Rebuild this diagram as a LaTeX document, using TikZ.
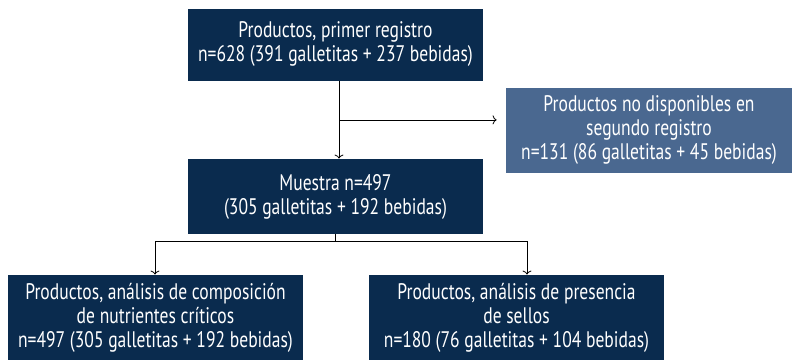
\documentclass[tikz,border=0pt]{standalone}
\usepackage{fontspec}
\setmainfont[FakeStretch=0.78]{PT Sans}
\usetikzlibrary{positioning, arrows.meta}
\definecolor{navy}{RGB}{10,43,78}
\definecolor{steel}{RGB}{74,104,144}
\begin{document}
\begin{tikzpicture}[x=1pt, y=1pt, line width=0.8pt, >={To[length=4pt, width=9pt]},
  caja/.style={fill=navy, text=white, align=center, minimum width=295pt,
    inner sep=0pt, font=\fontsize{22.5}{24}\selectfont}]
\useasboundingbox (0,0) rectangle (792,360);
\node[caja, minimum height=72pt] (reg1) at (335.5,315.5)
  {Productos, primer registro\\n=628 (391 galletitas + 237 bebidas)};
\node[caja, fill=steel, minimum width=286pt, minimum height=85pt] (nodisp) at (649,229.5)
  {Productos no disponibles en\\segundo registro\\n=131 (86 galletitas + 45 bebidas)};
\node[caja, minimum height=75pt] (muestra) at (335.5,163.5)
  {Muestra n=497\\(305 galletitas + 192 bebidas)};
\node[caja, minimum height=85pt] (nutri) at (155.5,42.5)
  {Productos, análisis de composición\\de nutrientes críticos\\n=497 (305 galletitas + 192 bebidas)};
\node[caja, minimum height=85pt] (sellos) at (516.5,42.5)
  {Productos, análisis de presencia\\de sellos\\n=180 (76 galletitas + 104 bebidas)};

\draw[->] ([xshift=3.5]reg1.south) -- ([xshift=3.5]muestra.north);
\coordinate (rama) at ([xshift=3.5, yshift=-39]reg1.south);
\draw[->, shorten >=9pt] (rama) -- (rama -| nodisp.west);
\coordinate (div) at ([yshift=-7]muestra.south);
\draw (muestra.south) -- (div);
\draw[->] (div) -| ([xshift=-0.5]nutri.north);
\draw[->] (div) -| ([xshift=10.5]sellos.north);
\end{tikzpicture}
\end{document}
